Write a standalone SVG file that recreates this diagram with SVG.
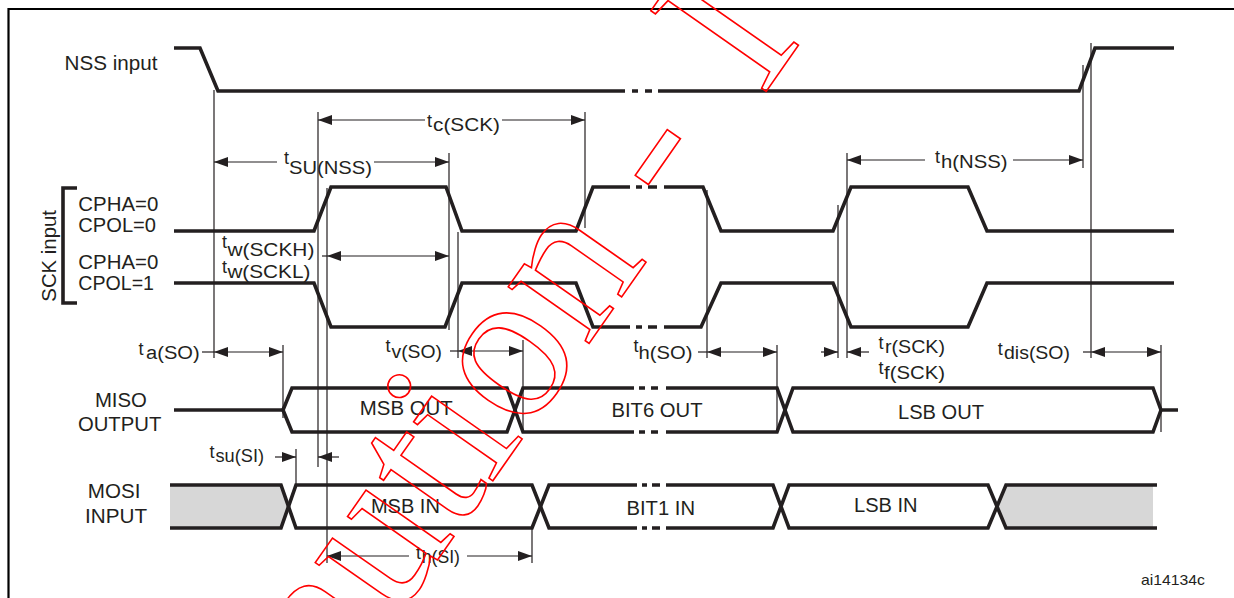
<svg xmlns="http://www.w3.org/2000/svg" width="1234" height="598" viewBox="0 0 1234 598">
<style>
.w{fill:none;stroke:#231f20;stroke-width:3.6;stroke-linejoin:miter;stroke-linecap:butt}
.th{fill:none;stroke:#231f20;stroke-width:1.2}
.ar{fill:none;stroke:#231f20;stroke-width:1.2;marker-start:url(#a);marker-end:url(#a)}
.as{fill:none;stroke:#231f20;stroke-width:1.2;marker-start:url(#a)}
.ae{fill:none;stroke:#231f20;stroke-width:1.2;marker-end:url(#a)}
.g{fill:#d7d7d7;stroke:none}
text{font-family:"Liberation Sans",Arial,sans-serif;fill:#231f20}
.m{font-size:20px}
.s{font-size:18px}
.wm{font-family:"Liberation Serif","Times New Roman",serif;font-size:215px;fill:none;stroke:#ff0000;stroke-width:1.6}
</style>
<defs>
<marker id="a" viewBox="0 0 14 10" refX="14" refY="5" markerWidth="14" markerHeight="10" markerUnits="userSpaceOnUse" orient="auto-start-reverse"><path d="M0,0L14,5L0,10z" fill="#231f20"/></marker>
</defs>
<rect width="1234" height="598" fill="#fff"/>
<path d="M8.5,598 V9 H1234" fill="none" stroke="#000" stroke-width="2.2"/>

<g id="nss">
<text class="m" x="64.5" y="70" textLength="93" lengthAdjust="spacingAndGlyphs">NSS input</text>
<path class="w" d="M174,48 L200,48 L218,91 L625,91 M632,91 L638,91 M645,91 L652,91 M658,91 L1079,91 L1095,48 L1174,48"/>
</g>

<g id="sck">
<path class="w" d="M77,188 H63 V303 H77"/>
<text class="m" transform="translate(56,301.7) rotate(-90)" x="0" y="0" textLength="91.7" lengthAdjust="spacingAndGlyphs">SCK input</text>
<text class="m" x="78.3" y="210.7" textLength="80" lengthAdjust="spacingAndGlyphs">CPHA=0</text>
<text class="m" x="78.3" y="232.3" textLength="77.7" lengthAdjust="spacingAndGlyphs">CPOL=0</text>
<text class="m" x="78.3" y="269.3" textLength="80" lengthAdjust="spacingAndGlyphs">CPHA=0</text>
<text class="m" x="78.3" y="290" textLength="75.7" lengthAdjust="spacingAndGlyphs">CPOL=1</text>
<path class="w" d="M174,231 L314,231 L331,187 L446,187 L462,231 L576,231 L593,187 L630,187 M636,187 L642,187 M648,187 L657,187 M664,187 L703,187 L721,231 L833,231 L851,187 L968,187 L987,231 L1174,231"/>
<path class="w" d="M174,283 L314,283 L331,327 L445,327 L462,283 L576,283 L593,327 L630,327 M636,327 L642,327 M648,327 L657,327 M664,327 L701,327 L721,283 L833,283 L851,327 L968,327 L987,283 L1174,283"/>
</g>

<g id="miso">
<text class="m" x="94.9" y="406.7" textLength="52" lengthAdjust="spacingAndGlyphs">MISO</text>
<text class="m" x="77.9" y="431" textLength="83.4" lengthAdjust="spacingAndGlyphs">OUTPUT</text>
<path class="w" d="M174,410 L283,410"/>
<path class="w" d="M283,410 L292,388 L507,388 L523,432 L634,432 M639,432 L645,432 M651,432 L658,432 M666,432 L777,432 L793,388 L1153,388 L1161,410 L1178,410"/>
<path class="w" d="M283,410 L292,432 L507,432 L523,388 L634,388 M639,388 L645,388 M651,388 L658,388 M666,388 L777,388 L793,432 L1153,432 L1161,410"/>
<text class="m" x="359.8" y="415" textLength="93" lengthAdjust="spacingAndGlyphs">MSB OUT</text>
<text class="m" x="611.5" y="417" textLength="91" lengthAdjust="spacingAndGlyphs">BIT6 OUT</text>
<text class="m" x="898" y="419" textLength="86" lengthAdjust="spacingAndGlyphs">LSB OUT</text>
</g>

<g id="mosi">
<text class="m" x="87.8" y="498.3" textLength="52.6" lengthAdjust="spacingAndGlyphs">MOSI</text>
<text class="m" x="85" y="522.7" textLength="62" lengthAdjust="spacingAndGlyphs">INPUT</text>
<path class="g" d="M170,485 L281,485 L288.5,506.5 L281,528 L170,528 Z"/>
<path class="g" d="M997,506.5 L1006,485 L1153,485 L1153,528 L1006,528 Z"/>
<path class="w" d="M170,485 L281,485 L296,528 L532,528 L549,485 L637,485 M642,485 L647,485 M652,485 L660,485 M666,485 L773,485 L789,528 L988,528 L1006,485 L1157,485"/>
<path class="w" d="M170,528 L281,528 L296,485 L532,485 L549,528 L637,528 M642,528 L647,528 M652,528 L660,528 M666,528 L773,528 L789,485 L988,485 L1006,528 L1157,528"/>
<text class="m" x="370.9" y="513.3" textLength="69" lengthAdjust="spacingAndGlyphs">MSB IN</text>
<text class="m" x="626.5" y="514.5" textLength="68.5" lengthAdjust="spacingAndGlyphs">BIT1 IN</text>
<text class="m" x="854" y="512" textLength="63.6" lengthAdjust="spacingAndGlyphs">LSB IN</text>
</g>

<g id="connectors">
<path class="th" d="M214,90 V358 M318,112 V467 M327,188 V563 M449,153 V330 M458,232 V358 M523,340 V432 M585,112 V228 M707,190 V358 M777,345 V432 M838,205 V358 M847,153 V358 M1083,65 V168 M1091,43 V358 M1161,345 V432 M283,345 V418 M296,449 V485 M532,528 V563"/>
<path class="as" d="M318,120 H425"/><path class="ae" d="M502,120 H585"/>
<path class="as" d="M214,162 H277"/><path class="ae" d="M374,162 H449"/>
<path class="th" d="M322,256 H327"/><path class="ar" d="M327,256 H449"/>
<path class="th" d="M202,352 H214"/><path class="ar" d="M214,352 H283"/>
<path class="th" d="M450,351 H458"/><path class="ar" d="M458,351 H523"/>
<path class="th" d="M698,352 H707"/><path class="ar" d="M707,352 H777"/>
<path class="ae" d="M821,352 H838"/><path class="as" d="M847,352 H869"/>
<path class="th" d="M1083,352 H1091"/><path class="ar" d="M1091,352 H1161"/>
<path class="as" d="M847,160 H925"/><path class="ae" d="M1013,160 H1083"/>
<path class="ae" d="M275,457 H296"/><path class="as" d="M318,457 H339"/>
<path class="as" d="M327,556 H409"/><path class="ae" d="M467,556 H532"/>
</g>

<g id="labels">
<text class="s" x="427" y="127">t</text><text class="s" x="433" y="131" textLength="67" lengthAdjust="spacingAndGlyphs">c(SCK)</text>
<text class="s" x="284" y="164">t</text><text class="s" x="289" y="174" textLength="83" lengthAdjust="spacingAndGlyphs">SU(NSS)</text>
<text class="s" x="222" y="248">t</text><text class="s" x="227.4" y="255.5" textLength="87" lengthAdjust="spacingAndGlyphs">w(SCKH)</text>
<text class="s" x="222" y="273">t</text><text class="s" x="227.4" y="278" textLength="83" lengthAdjust="spacingAndGlyphs">w(SCKL)</text>
<text class="s" x="138.4" y="355">t</text><text class="s" x="146" y="359" textLength="53.7" lengthAdjust="spacingAndGlyphs">a(SO)</text>
<text class="s" x="385.5" y="352">t</text><text class="s" x="391.5" y="357.5" textLength="50.5" lengthAdjust="spacingAndGlyphs">v(SO)</text>
<text class="s" x="633.5" y="352">t</text><text class="s" x="638.5" y="359" textLength="53.9" lengthAdjust="spacingAndGlyphs">h(SO)</text>
<text class="s" x="878.4" y="349">t</text><text class="s" x="885" y="353" textLength="60" lengthAdjust="spacingAndGlyphs">r(SCK)</text>
<text class="s" x="878.4" y="374">t</text><text class="s" x="884" y="379" textLength="61" lengthAdjust="spacingAndGlyphs">f(SCK)</text>
<text class="s" x="997.8" y="355">t</text><text class="s" x="1004" y="359" textLength="66" lengthAdjust="spacingAndGlyphs">dis(SO)</text>
<text class="s" x="935" y="163">t</text><text class="s" x="941" y="168" textLength="66.6" lengthAdjust="spacingAndGlyphs">h(NSS)</text>
<text class="s" x="209.6" y="458">t</text><text class="s" x="215.5" y="462" textLength="48.5" lengthAdjust="spacingAndGlyphs">su(SI)</text>
<text class="s" x="416" y="559">t</text><text class="s" x="421.7" y="563" textLength="38.3" lengthAdjust="spacingAndGlyphs">h(SI)</text>
<text x="1141" y="585" font-size="15" textLength="64" lengthAdjust="spacingAndGlyphs">ai14134c</text>
</g>

<g id="watermark">
<text class="wm" transform="translate(257.4,817.2) rotate(-55)" x="0" y="0">Caution -</text>
<text class="wm" transform="translate(761.7,97.8) rotate(-55)" x="0" y="0">I</text>
</g>
</svg>
